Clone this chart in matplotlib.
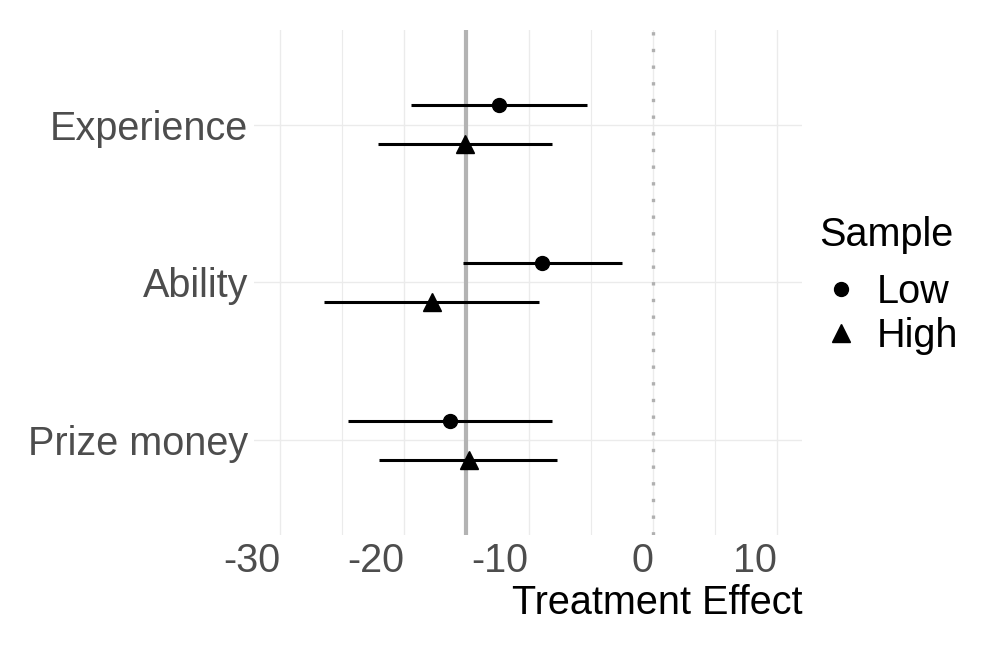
import numpy as np
import matplotlib.pyplot as plt
from matplotlib.lines import Line2D

plt.rcParams['font.family'] = ['Liberation Sans', 'DejaVu Sans']

# data
categories = ['Prize money', 'Ability', 'Experience']
samples = ['Low', 'High']
low_est = [-16.3, -8.9, -12.4]
low_lo = [-24.5, -15.3, -19.45]
low_hi = [-8.15, -2.45, -5.3]
high_est = [-14.8, -17.8, -15.1]
high_lo = [-22.05, -26.45, -22.1]
high_hi = [-7.7, -9.15, -8.1]
mean_line = -15.0
xticks = [-30, -20, -10, 0, 10]

fig = plt.figure(figsize=(10, 6.5), dpi=100)
ax = fig.add_axes([0.254, 0.177, 0.548, 0.777])

ypos = np.arange(1, len(categories) + 1)
dodge = 0.125

# grid (theme_minimal style)
for x in np.arange(-30, 15, 5):
    ax.axvline(x, color='#ebebeb', lw=1.0 if x % 10 == 0 else 0.8, zorder=0)
for y in ypos:
    ax.axhline(y, color='#ebebeb', lw=1.0, zorder=0)

ax.axvline(mean_line, color='#b3b3b3', lw=3, zorder=1)
ax.axvline(0, color='#b0b0b0', lw=2.4, linestyle=(0, (1, 4.0)), zorder=1)

ax.hlines(ypos + dodge, low_lo, low_hi, color='black', lw=2.2, zorder=2)
ax.plot(low_est, ypos + dodge, 'o', color='black', markersize=10, zorder=3)
ax.hlines(ypos - dodge, high_lo, high_hi, color='black', lw=2.2, zorder=2)
ax.plot(high_est, ypos - dodge, '^', color='black', markersize=12.5, zorder=3)

ax.set_xlim(-32.1, 12.0)
ax.set_ylim(0.4, 3.6)
ax.set_yticks(ypos)
ax.set_yticklabels(categories)
ax.set_xticks(xticks)
ax.set_xticklabels([str(t) for t in xticks], ha='right')
ax.tick_params(axis='both', length=0, labelsize=28.5, labelcolor='#4d4d4d')
ax.tick_params(axis='y', pad=4)
ax.tick_params(axis='x', pad=5)
for s in ax.spines.values():
    s.set_visible(False)

ax.set_xlabel('Treatment Effect', fontsize=28.5, color='black', loc='right', labelpad=3)

# legend
fig.text(0.819, 0.638, 'Sample', fontsize=28.5, ha='left', va='center')
handles = [Line2D([], [], marker='o', color='black', linestyle='None', markersize=10),
           Line2D([], [], marker='^', color='black', linestyle='None', markersize=12.5)]
leg = fig.legend(handles, samples, loc='center left',
                 bbox_to_anchor=(0.823, 0.517), frameon=False, fontsize=28.5,
                 handlelength=0.9, handletextpad=0.45, labelspacing=0.15,
                 borderpad=0, borderaxespad=0)

fig.savefig('out.png', dpi=100)
